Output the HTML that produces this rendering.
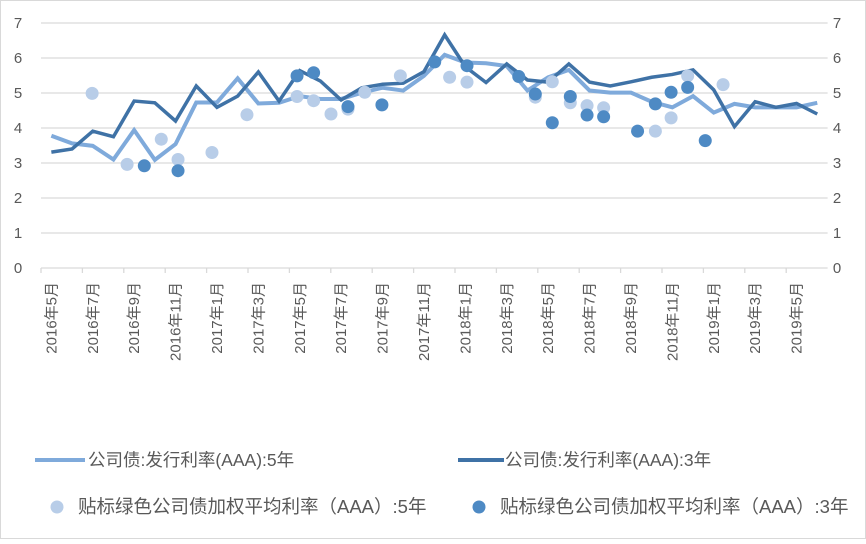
<!DOCTYPE html>
<html><head><meta charset="utf-8"><style>
body{margin:0;background:#fff;}
svg text{font-family:"Liberation Sans","Noto Sans CJK SC",sans-serif;fill:#595959;}
</style></head><body>
<svg width="866" height="539" xmlns="http://www.w3.org/2000/svg">
<rect x="0.5" y="0.5" width="865" height="538" fill="#fff" stroke="#d9d9d9"/>
<g id="grid"></g><g id="xaxis"></g><g id="series"></g>
<g>
<line x1="35" y1="460" x2="85" y2="460" stroke="#7FAADB" stroke-width="4"/>
<text x="88" y="466" font-size="17.5">公司债:发行利率(AAA):5年</text>
<line x1="458" y1="460" x2="504" y2="460" stroke="#3F72A6" stroke-width="4"/>
<text x="505" y="466" font-size="17.5">公司债:发行利率(AAA):3年</text>
<circle cx="57" cy="507" r="6.5" fill="#B8CDE8"/>
<text x="78" y="513" font-size="18.5">贴标绿色公司债加权平均利率（AAA）:5年</text>
<circle cx="479" cy="507" r="6.5" fill="#4E8AC4"/>
<text x="500" y="513" font-size="18.5">贴标绿色公司债加权平均利率（AAA）:3年</text>
</g>
</svg>
<script>
const yTicks=[0,1,2,3,4,5,6,7];
const months=[];
for(let y=2016,m=5;months.length<38;){months.push(y+"年"+m+"月");m++;if(m>12){m=1;y++;}}
const rate5y=[3.78,3.56,3.49,3.10,3.94,3.09,3.54,4.73,4.73,5.42,4.70,4.72,4.91,4.83,4.83,5.01,5.15,5.07,5.49,6.09,5.87,5.85,5.77,5.07,5.45,5.66,5.07,5.01,5.01,4.75,4.59,4.91,4.44,4.69,4.59,4.59,4.59,4.72];
const rate3y=[3.31,3.40,3.91,3.75,4.77,4.72,4.20,5.20,4.59,4.91,5.60,4.77,5.64,5.34,4.80,5.15,5.25,5.28,5.61,6.66,5.75,5.30,5.83,5.37,5.31,5.83,5.31,5.20,5.32,5.45,5.53,5.66,5.09,4.04,4.75,4.59,4.70,4.40];
const green5yPos=[1.97,3.66,5.31,6.12,7.76,9.45,11.87,12.67,13.51,14.33,15.14,16.86,19.24,20.08,23.38,24.2,25.07,25.88,26.68,29.18,29.94,30.74,32.45];
const green5yVal=[4.99,2.96,3.68,3.10,3.30,4.38,4.90,4.78,4.40,4.54,5.02,5.49,5.45,5.31,4.88,5.32,4.72,4.64,4.58,3.91,4.29,5.49,5.24];
const green3yPos=[4.49,6.12,11.87,12.67,14.33,15.97,18.52,20.08,22.58,23.38,24.2,25.07,25.88,26.68,28.32,29.18,29.94,30.74,31.59];
const green3yVal=[2.92,2.78,5.49,5.58,4.61,4.66,5.89,5.78,5.47,4.97,4.15,4.90,4.37,4.32,3.91,4.69,5.02,5.16,3.64];
const NS="http://www.w3.org/2000/svg";
const X0=41,CW=20.7,Y0=268,UY=35;
const xs=i=>X0+CW*(i+0.5), ys=v=>Y0-v*UY;
function mk(t,a,p){const e=document.createElementNS(NS,t);for(const k in a)e.setAttribute(k,a[k]);p.appendChild(e);return e;}
const grid=document.getElementById('grid'),xa=document.getElementById('xaxis'),se=document.getElementById('series');
const XR=X0+CW*months.length;
yTicks.forEach(v=>{
 const l=mk('line',{x1:X0,x2:XR,y1:ys(v),y2:ys(v),stroke:'#d9d9d9','stroke-width':1.3},grid);
 
 
 const t=mk('text',{x:18,y:ys(v)+5,'font-size':15,'text-anchor':'middle'},grid);t.textContent=v;
 
 
 const t2=mk('text',{x:837,y:ys(v)+5,'font-size':15,'text-anchor':'middle'},grid);t2.textContent=v;
 
 
});
months.forEach((m,i)=>{
 if(i%2==0){
  const tk=mk('line',{x1:X0+CW*i,x2:X0+CW*i,y1:Y0,y2:Y0+5,stroke:'#d9d9d9','stroke-width':1.3},xa);
  
  
  const x=xs(i)+5,y=282;
  const t=mk('text',{x:x,y:y,'font-size':15,'text-anchor':'end',transform:`rotate(-90 ${x} ${y})`},xa);t.textContent=m;
  
  
 }
});
function line(vals,col,w,name){
 const p=mk('polyline',{points:vals.map((v,i)=>xs(i)+','+ys(v)).join(' '),fill:'none',stroke:col,'stroke-width':w,'stroke-linejoin':'miter'},se);
 
 
}
line(rate5y,'#7FAADB',4,'line-5y');
line(rate3y,'#3F72A6',3.5,'line-3y');
function dots(pos,vals,col,name){
 pos.forEach((p,i)=>{const c=mk('circle',{cx:xs(p),cy:ys(vals[i]),r:6.5,fill:col},se);
 
 });
}
dots(green5yPos,green5yVal,'#B8CDE8','dot-green-5y');
dots(green3yPos,green3yVal,'#4E8AC4','dot-green-3y');
</script>
</body></html>
